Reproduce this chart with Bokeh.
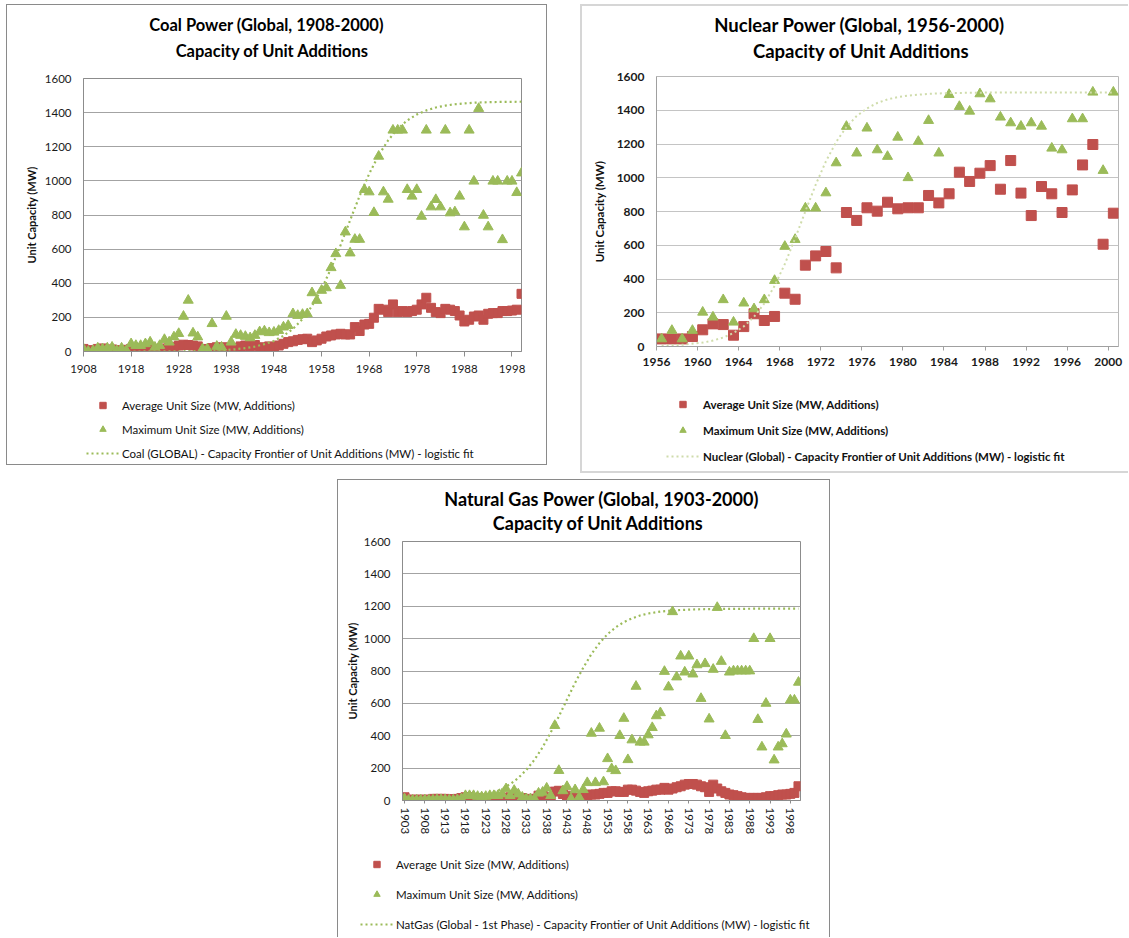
from bokeh.plotting import figure
from bokeh.models import ColumnDataSource, Legend, LegendItem, FixedTicker, Spacer, Range1d, Label
from bokeh.layouts import row, column
from bokeh.transform import dodge
from bokeh.embed import file_html
from bokeh.resources import INLINE

RED = "#c0504d"
GREEN = "#9bbb59"
NUC_FIT_COLOR = "#cfdcab"
FONT = "Lato"

Y_TICKS = [0, 200, 400, 600, 800, 1000, 1200, 1400, 1600]
AVG_LABEL = "Average Unit Size (MW, Additions)"
MAX_LABEL = "Maximum Unit Size (MW, Additions)"

# ---------------- Coal (1908-2000) ----------------
coal_years = list(range(1908, 2001))
coal_avg = [15, 5, 8, 15, 18, 10, 12, 5, 8, 10, 15, 18, 20, 18, 22, 15, 12, 18, 20, 25,
            35, 40, 38, 35, 30, 15, 10, 20, 25, 20, 25, 18, 20, 30, 35, 32, 38, 20, 25, 30,
            25, 35, 45, 55, 60, 68, 72, 75, 55, 65, 75, 88, 94, 100, 104, 100, 100, 143, 120, 158,
            162, 198, 250, 245, 231, 276, 231, 237, 231, 237, 245, 276, 315, 256, 231, 225, 250, 245,
            237, 211, 176, 186, 205, 211, 186, 221, 225, 225, 237, 237, 240, 245, 338]
coal_max = [15, 0, 5, 20, 15, 20, 25, 5, 20, 5, 45, 35, 35, 45, 55, 25, 35, 70, 55, 85,
            105, 206, 300, 108, 85, 15, 15, 163, 30, 25, 206, 55, 100, 94, 88, 80, 94, 115, 120, 110,
            113, 123, 143, 152, 221, 211, 217, 221, 344, 299, 358, 373, 491, 573, 387, 700, 577, 657,
            657, 949, 935, 814, 1144, 935, 892, 1297, 1297, 1297, 949, 910, 949, 792, 1297, 847, 890,
            847, 1297, 812, 818, 910, 730, 1297, 998, 1424, 798, 730, 998, 998, 655, 998, 998, 931, 1046]
coal_fit_years = [1908, 1912, 1916, 1920, 1924, 1928, 1932, 1936, 1940, 1942, 1944, 1946, 1948, 1950,
                  1952, 1954, 1956, 1958, 1960, 1962, 1964, 1966, 1968, 1970, 1972, 1974, 1976, 1978,
                  1980, 1982, 1984, 1986, 1988, 1990, 1994, 2000]
coal_fit = [0, 0, 0, 0, 1, 1, 3, 6, 13, 20, 29, 43, 62, 92, 133, 190, 267, 366, 487, 623, 769, 912,
            1041, 1151, 1238, 1306, 1354, 1389, 1413, 1430, 1441, 1449, 1454, 1458, 1462, 1464]
coal_ticks = [1908, 1918, 1928, 1938, 1948, 1958, 1968, 1978, 1988, 1998]

# ---------------- Nuclear (1956-2000) ----------------
nuc_years = list(range(1956, 2001))
nuc_avg = [45, 45, 45, 59, 99, 134, 130, 67, 118, 194, 154, 178, 316, 280, 482, 537, 563, 466, 794, 747,
           822, 802, 855, 816, 822, 822, 895, 851, 905, 1033, 978, 1027, 1072, 932, 1102, 909, 776, 948,
           905, 794, 928, 1076, 1197, 606, 790]
nuc_max = [45, 95, 45, 95, 203, 174, 277, 144, 257, 223, 277, 391, 593, 634, 820, 820, 910, 1088, 1304,
           1146, 1294, 1165, 1126, 1240, 1000, 1215, 1339, 1146, 1493, 1422, 1394, 1497, 1467, 1359, 1325,
           1305, 1325, 1305, 1175, 1165, 1349, 1349, 1507, 1043, 1507]
nuc_fit_years = [1956, 1958, 1960, 1961, 1962, 1963, 1964, 1965, 1966, 1967, 1968, 1969, 1970, 1971,
                 1972, 1973, 1974, 1975, 1976, 1977, 1978, 1979, 1980, 1982, 1984, 1988, 1994, 2000]
nuc_fit = [4, 10, 23, 35, 53, 80, 119, 176, 255, 359, 489, 640, 801, 958, 1097, 1212, 1301, 1366, 1411,
           1443, 1464, 1478, 1487, 1497, 1502, 1505, 1505, 1505]
nuc_ticks = [1956, 1960, 1964, 1968, 1972, 1976, 1980, 1984, 1988, 1992, 1996, 2000]

# ---------------- Natural gas (1903-2000) ----------------
gas_years = list(range(1903, 2001))
gas_avg = [20, 5, 5, 5, 5, 5, 5, 10, 10, 10, 10, 8, 8, 10, 15, 20, 20, 15, 15, 12,
           10, 15, 15, 12, 10, 15, 20, 25, 15, 15, 5, 10, 10, 30, 35, 20, 5, 55, 60, 40,
           20, 30, 15, 10, 20,
           27, 37, 37, 41, 47, 47, 57, 57, 53, 53, 67, 67, 61, 53, 47, 57, 61, 67, 67, 78,
           67, 74, 82, 88, 98, 102, 102, 98, 88, 82, 53, 98, 74, 57, 47, 37, 33, 27, 20, 16,
           16, 16, 16, 16, 20, 27, 27, 33, 37, 37, 41, 47, 88]
gas_max = [10, 2, 2, 2, 2, 3, 3, 3, 5, 5, 5, 3, 3, 5, 10, 30, 30, 30, 25, 22,
           25, 30, 30, 30, 40, 72, 30, 62, 40, 20, 10, 10, 10, 45, 51, 76, 30, 463, 185, 60,
           86, 10, 66, 20, 67,
           110, 415, 110, 446, 115, 258, 196, 184, 401, 507, 252, 374, 705, 360, 360, 405, 450, 523,
           542, 797, 701, 1166, 763, 892, 793, 892, 781, 838, 630, 845, 503, 810, 1192, 859, 401, 793,
           800, 800, 800, 800, 800, 1000, 500, 330, 600, 1000, 250, 330, 350, 410, 620, 620, 730]
gas_fit_years = [1903, 1908, 1913, 1918, 1921, 1923, 1925, 1927, 1929, 1931, 1933, 1935, 1937, 1939,
                 1941, 1943, 1945, 1947, 1949, 1951, 1953, 1955, 1957, 1959, 1961, 1963, 1966, 1970,
                 1975, 1980, 1990, 2000]
gas_fit = [1, 3, 7, 16, 26, 37, 52, 73, 101, 139, 189, 252, 329, 420, 520, 624, 727, 820, 904, 972,
           1028, 1070, 1102, 1125, 1143, 1155, 1167, 1176, 1181, 1183, 1185, 1185]
gas_ticks = list(range(1903, 1999, 5))


def shadow(color, w, left=True, right=True, top=False, bottom=False):
    parts = []
    if left:
        parts.append(f"inset {w}px 0 0 0 {color}")
    if right:
        parts.append(f"inset -{w}px 0 0 0 {color}")
    if top:
        parts.append(f"inset 0 {w}px 0 0 {color}")
    if bottom:
        parts.append(f"inset 0 -{w}px 0 0 {color}")
    return {"box-shadow": ", ".join(parts)}


def blank_fig(width, height, css):
    p = figure(width=width, height=height, x_range=Range1d(0, width), y_range=Range1d(0, height),
               output_backend="svg", toolbar_location=None, tools="",
               x_axis_type=None, y_axis_type=None,
               min_border_left=0, min_border_right=0, min_border_top=0, min_border_bottom=0,
               background_fill_alpha=0, border_fill_alpha=0, outline_line_color=None, styles=css)
    return p


def title_fig(width, height, css, line1, line2, pos1, pos2, size):
    p = blank_fig(width, height, css)
    for text, (x, y) in ((line1, pos1), (line2, pos2)):
        p.add_layout(Label(x=x, y=y, text=text, text_font=FONT, text_font_size=size,
                           text_font_style="bold", text_color="#000000",
                           text_align="center", text_baseline="middle"))
    return p


def legend_fig(width, height, css, src, fit_src, xcol, labels, fit_color, loc, spacing,
               standoff, bold, sq, tri):
    # the series are re-used here only to build the legend; they lie outside this view
    p = blank_fig(width, height, css)
    a = p.scatter(xcol, "avg", source=src, marker="square", size=sq, color=RED)
    b = p.scatter(xcol, "mx", source=src, marker="triangle", size=tri, color=GREEN)
    c = p.line(xcol, "fit", source=fit_src, line_color=fit_color, line_width=2, line_dash="2 3")
    lg = Legend(items=[LegendItem(label=l, renderers=[r]) for l, r in zip(labels, (a, b, c))],
                location=loc, orientation="vertical", glyph_width=33, glyph_height=16,
                label_height=16, spacing=spacing, label_standoff=standoff, padding=0, margin=0,
                border_line_color=None, background_fill_alpha=0,
                label_text_font=FONT, label_text_font_size="11.5px",
                label_text_font_style="bold" if bold else "normal", label_text_color="#111111")
    p.add_layout(lg)
    return p


def chart_fig(width, height, xr, borders, grid_color, outline_color, css):
    p = figure(width=width, height=height, x_range=Range1d(*xr), y_range=Range1d(0, 1600),
               output_backend="svg", toolbar_location=None, tools="",
               min_border_left=borders[0], min_border_right=borders[1],
               min_border_top=borders[2], min_border_bottom=borders[3],
               background_fill_color="white", border_fill_alpha=0,
               outline_line_color=outline_color, styles=css)
    p.xgrid.grid_line_color = None
    p.ygrid.grid_line_color = grid_color
    p.ygrid.grid_line_width = 1
    p.yaxis.ticker = FixedTicker(ticks=Y_TICKS)
    return p


def style_axes(p, xticks, size, bold, axis_color, y_standoff, y_lab_standoff,
               x_tick_out, x_standoff, lab_size):
    style = "bold" if bold else "normal"
    p.xaxis.ticker = FixedTicker(ticks=xticks)
    for ax in (p.xaxis[0], p.yaxis[0]):
        ax.major_label_text_font = FONT
        ax.major_label_text_font_size = size
        ax.major_label_text_font_style = style
        ax.major_label_text_color = "#1a1a1a"
        ax.axis_line_color = axis_color
        ax.major_tick_line_color = axis_color
        ax.minor_tick_line_color = None
        ax.major_tick_in = 0
    p.yaxis.major_tick_out = 0
    p.yaxis.major_label_standoff = y_standoff
    p.yaxis.axis_label = "Unit Capacity (MW)"
    p.yaxis.axis_label_text_font = FONT
    p.yaxis.axis_label_text_font_size = lab_size
    p.yaxis.axis_label_text_font_style = "bold"
    p.yaxis.axis_label_text_color = "#111111"
    p.yaxis.axis_label_standoff = y_lab_standoff
    p.xaxis.major_tick_out = x_tick_out
    p.xaxis.major_label_standoff = x_standoff


# ================= Coal panel =================
CB = "#8a8a8a"
coal_title = title_fig(541, 66, shadow(CB, 1, top=True), "Coal Power (Global, 1908-2000)",
                       "Capacity of Unit Additions", (260, 46), (266, 20), "16.5px")
coal = chart_fig(541, 320, (1908, 2000), (77, 26, 8, 39), "#a3a3a3", "#8c8c8c", shadow(CB, 1))
style_axes(coal, coal_ticks, "11.5px", False, "#8c8c8c", 12, 4, 5, 8, "11px")
c_src = ColumnDataSource(dict(year=coal_years, avg=coal_avg, mx=coal_max))
c_fit = ColumnDataSource(dict(year=coal_fit_years, fit=coal_fit))
coal.scatter("year", "avg", source=c_src, marker="square", size=9, color=RED)
coal.scatter("year", "mx", source=c_src, marker="triangle", size=10, color=GREEN)
coal.line("year", "fit", source=c_fit, line_color=GREEN, line_width=2.2, line_dash="2 3")
coal_leg = legend_fig(541, 75, shadow(CB, 1, bottom=True), c_src, c_fit, "year",
                      [AVG_LABEL, MAX_LABEL,
                       "Coal (GLOBAL) - Capacity Frontier of Unit Additions (MW) - logistic fit"],
                      GREEN, (80, 4), 8, 3, False, 10, 11)
coal_panel = column(coal_title, column(coal), coal_leg)

# ================= Nuclear panel =================
NB = "#d6d6d6"
nuc_title = title_fig(548, 64, shadow(NB, 2, right=False, top=True), "Nuclear Power (Global, 1956-2000)",
                      "Capacity of Unit Additions", (279, 44), (281, 18), "18.5px")
nuc = chart_fig(548, 312, (1956, 2001), (76, 10, 8, 34), "#c4c4c4", "#b8b8b8",
                shadow(NB, 2, right=False))
style_axes(nuc, nuc_ticks, "12px", True, "#a0a0a0", 12, 8, 4, 7, "11.5px")
n_src = ColumnDataSource(dict(year=nuc_years, avg=nuc_avg, mx=nuc_max))
n_fit = ColumnDataSource(dict(year=nuc_fit_years, fit=nuc_fit))
nx = dodge("year", 0.5, range=nuc.x_range)
nuc.scatter(nx, "avg", source=n_src, marker="square", size=10, color=RED)
nuc.scatter(nx, "mx", source=n_src, marker="triangle", size=10, color=GREEN)
nuc.line(nx, "fit", source=n_fit, line_color=NUC_FIT_COLOR, line_width=2, line_dash="2 3")
nuc_leg = legend_fig(548, 93, shadow(NB, 2, right=False, bottom=True), n_src, n_fit, "year",
                     [AVG_LABEL, MAX_LABEL,
                      "Nuclear (Global) - Capacity Frontier of Unit Additions (MW) - logistic fit"],
                     NUC_FIT_COLOR, (86, 9), 10, 4, True, 11, 11)
nuc_panel = column(nuc_title, column(nuc), nuc_leg)

# ================= Natural gas panel =================
gas_title = title_fig(493, 54, shadow(CB, 1, top=True), "Natural Gas Power (Global, 1903-2000)",
                      "Capacity of Unit Additions", (264, 35), (261, 11), "18px")
gas = chart_fig(493, 312, (1902.5, 2000.5), (65, 30, 8, 45), "#a3a3a3", "#8c8c8c", shadow(CB, 1))
style_axes(gas, gas_ticks, "11.5px", False, "#8c8c8c", 12, 2, 3, 4, "11px")
gas.xaxis.major_label_orientation = "vertical"
g_src = ColumnDataSource(dict(year=gas_years, avg=gas_avg, mx=gas_max))
g_fit = ColumnDataSource(dict(year=gas_fit_years, fit=gas_fit))
gas.scatter("year", "avg", source=g_src, marker="square", size=9, color=RED)
gas.scatter("year", "mx", source=g_src, marker="triangle", size=10, color=GREEN)
gas.line("year", "fit", source=g_fit, line_color=GREEN, line_width=2.2, line_dash="2 3")
gas_leg = legend_fig(493, 92, shadow(CB, 1), g_src, g_fit, "year",
                     [AVG_LABEL, MAX_LABEL,
                      "NatGas (Global - 1st Phase) - Capacity Frontier of Unit Additions (MW) - logistic fit"],
                     GREEN, (23, 5), 14, 3, False, 10, 11)
gas_panel = column(gas_title, column(gas), gas_leg)

layout = column(
    Spacer(width=10, height=4),
    row(Spacer(width=6, height=10), coal_panel, Spacer(width=33, height=10), nuc_panel),
    Spacer(width=10, height=6),
    row(Spacer(width=337, height=10), gas_panel),
)

open("out.html", "w").write(file_html(layout, INLINE))
